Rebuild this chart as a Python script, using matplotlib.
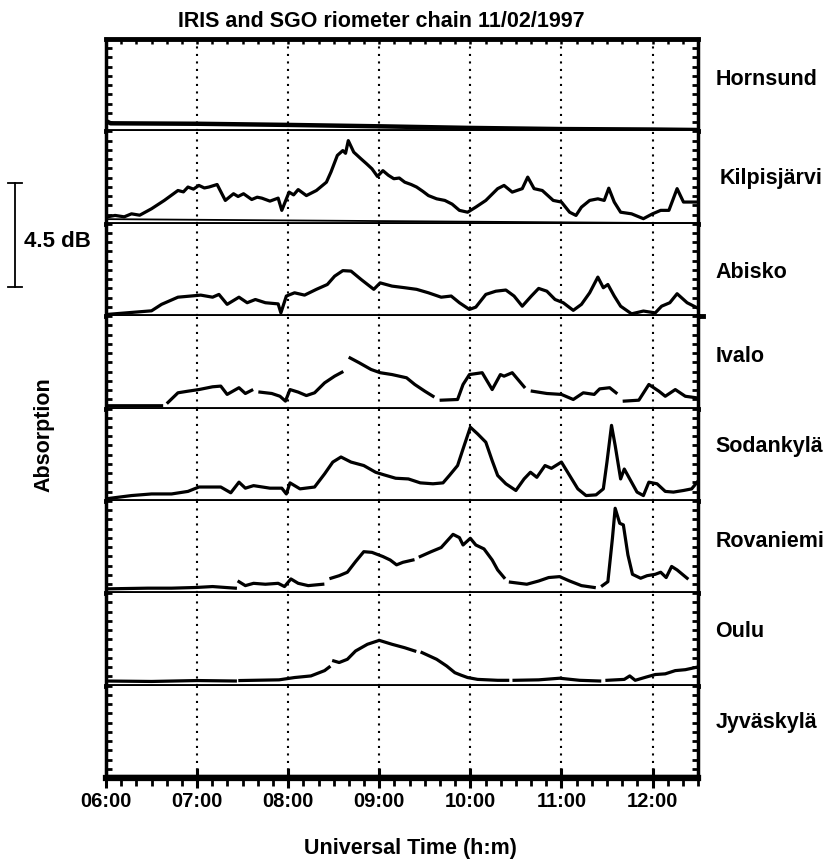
import numpy as np
import matplotlib.pyplot as plt
import matplotlib.transforms as mtransforms
from matplotlib.ticker import MultipleLocator, FuncFormatter

plt.rcParams['font.family'] = ['Liberation Sans', 'DejaVu Sans']
plt.rcParams['font.weight'] = 'bold'

nan = np.nan

stations = ['Hornsund', 'Kilpisjärvi', 'Abisko', 'Ivalo',
            'Sodankylä', 'Rovaniemi', 'Oulu', 'Jyväskylä']
hours = [6, 7, 8, 9, 10, 11, 12]

# absorption traces in dB, time in decimal hours UT (nan = data gap)
hor_t = [6.0, 6.05, 7.0, 8.0, 9.0, 10.0, 11.0, 12.0, 12.5]
hor_v = [0.45, 0.35, 0.33, 0.28, 0.22, 0.15, 0.10, 0.08, 0.06]

kil_t = [6.0, 6.1, 6.2, 6.28, 6.37, 6.5, 6.64, 6.79, 6.85, 6.9, 6.96, 7.02, 7.08, 7.13,
         7.22, 7.31, 7.4, 7.45, 7.51, 7.6, 7.66, 7.71, 7.8, 7.89, 7.93, 8.01, 8.06,
         8.11, 8.2, 8.31, 8.42, 8.47, 8.54, 8.6, 8.63,
         8.66, 8.72, 8.8, 8.86, 8.92, 8.98, 9.04, 9.1, 9.16, 9.22, 9.28, 9.35, 9.41,
         9.48, 9.54, 9.63, 9.72, 9.8,
         9.88, 9.97, 10.06, 10.17, 10.3, 10.37, 10.46, 10.57, 10.63, 10.7, 10.79,
         10.91, 11.0, 11.09, 11.16, 11.22, 11.31, 11.4, 11.47, 11.52, 11.58, 11.65,
         11.77, 11.9, 12.0, 12.09, 12.18, 12.27, 12.34, 12.49]
kil_v = [0.29, 0.36, 0.3, 0.43, 0.37, 0.65, 1.01, 1.44, 1.38, 1.59, 1.5, 1.66, 1.55, 1.59,
         1.70, 1.01, 1.3, 1.18, 1.3, 1.05, 1.15, 1.11, 0.98, 1.11, 0.58, 1.37, 1.25,
         1.48, 1.22, 1.44, 1.8, 2.24, 2.96, 3.17, 3.05,
         3.6, 3.1, 2.81, 2.6, 2.38, 2.05, 2.3, 2.1, 1.95, 1.98, 1.8, 1.7, 1.59,
         1.4, 1.22, 1.08, 1.01, 0.85,
         0.58, 0.5, 0.72, 1.01, 1.52, 1.66, 1.37, 1.52, 2.02, 1.52, 1.44,
         1.01, 0.94, 0.5, 0.36, 0.72, 1.01, 1.08, 1.01, 1.54, 0.94, 0.5,
         0.43, 0.22, 0.43, 0.58, 0.58, 1.52, 0.94, 0.94]
kil_base_t = [6.0, 12.5]
kil_base_v = [0.2, 0.02]

abi_t = [6.0, 6.5, 6.61, 6.79, 6.93, 7.04, 7.17, 7.24, 7.33, 7.46, 7.55, 7.64, 7.75,
         7.89, 7.92, 7.98, 8.07, 8.18, 8.31, 8.43, 8.51, 8.6, 8.69, 8.8, 8.94, 9.01,
         9.14, 9.28, 9.41, 9.54, 9.68, 9.79, 9.88, 9.99, 10.06, 10.17, 10.28, 10.39,
         10.48, 10.57, 10.67, 10.75, 10.84, 10.93, 11.02, 11.13, 11.22, 11.31, 11.4,
         11.46, 11.51, 11.58, 11.65, 11.77, 11.9, 12.03, 12.1, 12.19, 12.27, 12.38, 12.49]
abi_v = [0.07, 0.23, 0.51, 0.82, 0.87, 0.91, 0.82, 0.94, 0.51, 0.82, 0.58, 0.72, 0.58,
         0.53, 0.14, 0.87, 1.01, 0.91, 1.16, 1.37, 1.73, 1.97, 1.95, 1.59, 1.16, 1.44,
         1.3, 1.23, 1.16, 1.01, 0.82, 0.87, 0.58, 0.29, 0.39, 0.94, 1.08, 1.13,
         0.87, 0.43, 0.87, 1.2, 1.08, 0.72, 0.58, 0.25, 0.51, 1.01, 1.69,
         1.23, 1.37, 0.87, 0.43, 0.1, 0.22, 0.14, 0.43, 0.58, 0.97, 0.58, 0.36]

iva_t = [6.0, 6.61, nan, 6.68, 6.79, 6.9, 7.02, 7.17, 7.26, 7.33, 7.46, 7.53, 7.6, nan,
         7.69, 7.82, 7.91, 7.97, 8.02, 8.11, 8.2, 8.29, 8.4, 8.51, 8.59, nan,
         8.68, 8.78, 8.91, 9.01, 9.14, 9.3, 9.39, 9.5, 9.59, nan,
         9.68, 9.86, 9.92, 9.99, 10.13, 10.24, 10.33, 10.37, 10.46, 10.59, nan,
         10.68, 10.84, 11.0, 11.13, 11.24, 11.36, 11.42, 11.53, 11.6, nan,
         11.69, 11.85, 11.96, 12.07, 12.14, 12.25, 12.36, 12.49]
iva_v = [0.12, 0.12, nan, 0.26, 0.68, 0.75, 0.82, 0.94, 0.97, 0.61, 0.9, 0.65, 0.79, nan,
         0.71, 0.65, 0.53, 0.32, 0.82, 0.71, 0.56, 0.68, 1.11, 1.4, 1.57, nan,
         2.19, 1.98, 1.69, 1.55, 1.47, 1.33, 1.04, 0.75, 0.53, nan,
         0.36, 0.39, 1.04, 1.47, 1.55, 0.82, 1.47, 1.4, 1.55, 0.94, nan,
         0.75, 0.65, 0.61, 0.39, 0.68, 0.61, 0.85, 0.9, 0.68, nan,
         0.32, 0.36, 1.04, 0.75, 0.53, 0.82, 0.53, 0.46]

sod_t = [6.0, 6.28, 6.5, 6.72, 6.9, 7.02, 7.26, 7.37, 7.46, 7.53, 7.62, 7.8, 7.93, 7.98,
         8.02, 8.13, 8.29, 8.4, 8.49, 8.58, 8.69, 8.83, 8.96, 9.05, 9.18, 9.32, 9.45,
         9.59, 9.7, 9.77, 9.86, 9.92, 10.0, 10.08, 10.17, 10.24, 10.3, 10.39, 10.5,
         10.59, 10.66, 10.73, 10.82, 10.89, 11.0, 11.09, 11.18, 11.27, 11.38, 11.46,
         11.5, 11.55, 11.59, 11.65, 11.69, 11.76, 11.83, 11.9, 11.96, 12.05, 12.14,
         12.23, 12.34, 12.43, 12.49]
sod_v = [0.09, 0.23, 0.3, 0.3, 0.41, 0.6, 0.6, 0.35, 0.81, 0.55, 0.66, 0.55, 0.55, 0.3,
         0.78, 0.52, 0.6, 1.17, 1.68, 1.9, 1.68, 1.53, 1.24, 1.13, 0.98, 0.95, 0.78,
         0.74, 0.78, 1.1, 1.53, 2.25, 3.19, 2.9, 2.54, 1.74, 1.1, 0.74, 0.45,
         0.95, 1.24, 1.02, 1.53, 1.41, 1.68, 1.1, 0.52, 0.23, 0.26, 0.52,
         1.68, 3.27, 2.4, 0.95, 1.38, 0.88, 0.38, 0.23, 0.81, 0.74, 0.41,
         0.38, 0.45, 0.52, 0.81]

rov_t = [6.0, 6.46, 6.72, 6.99, 7.17, 7.31, 7.42, nan,
         7.46, 7.53, 7.62, 7.75, 7.89, 7.96, 8.03, 8.11, 8.22, 8.38, nan,
         8.47, 8.56, 8.65, 8.74, 8.83, 8.92, 9.04, 9.12, 9.19, 9.26, 9.37, nan,
         9.45, 9.57, 9.68, 9.81, 9.88, 9.92, 10.0, 10.06, 10.15, 10.24, 10.3, 10.37, nan,
         10.44, 10.62, 10.75, 10.86, 10.98, 11.09, 11.22, 11.36, nan,
         11.45, 11.51, 11.56, 11.59, 11.64, 11.68, 11.73, 11.78, 11.87, 11.94, 12.03,
         12.09, 12.15, 12.21, 12.27, 12.38]
rov_v = [0.19, 0.22, 0.22, 0.25, 0.29, 0.25, 0.22, nan,
         0.5, 0.33, 0.43, 0.39, 0.43, 0.29, 0.62, 0.43, 0.33, 0.39, nan,
         0.65, 0.76, 0.91, 1.37, 1.8, 1.77, 1.59, 1.44, 1.23, 1.34, 1.44, nan,
         1.59, 1.8, 1.98, 2.55, 2.41, 2.09, 2.38, 2.09, 1.92, 1.44, 1.01, 0.68, nan,
         0.48, 0.39, 0.53, 0.68, 0.72, 0.53, 0.33, 0.25, nan,
         0.33, 0.5, 2.38, 3.68, 3.03, 2.96, 1.66, 0.82, 0.65, 0.76, 0.82,
         0.91, 0.68, 1.16, 1.01, 0.65]

oul_t = [6.0, 6.5, 7.0, 7.42, nan, 7.47, 7.9, 8.07, 8.25, 8.4, 8.45, nan,
         8.5, 8.56, 8.65, 8.74, 8.87, 9.0, 9.14, 9.28, 9.39, nan,
         9.47, 9.63, 9.74, 9.83, 9.9, 9.97, 10.08, 10.3, 10.41, nan,
         10.48, 10.75, 10.98, 11.2, 11.42, nan,
         11.5, 11.69, 11.75, 11.81, 11.93, 12.03, 12.14, 12.25, 12.36, 12.49]
oul_v = [0.2, 0.18, 0.22, 0.2, nan, 0.22, 0.25, 0.35, 0.42, 0.65, 0.8, nan,
         1.07, 1.0, 1.14, 1.5, 1.79, 1.96, 1.79, 1.64, 1.5, nan,
         1.43, 1.14, 0.85, 0.56, 0.45, 0.35, 0.27, 0.23, 0.23, nan,
         0.23, 0.25, 0.32, 0.23, 0.2, nan,
         0.23, 0.27, 0.42, 0.23, 0.37, 0.48, 0.51, 0.65, 0.69, 0.8]

jyv_t = [6.0, 12.5]
jyv_v = [0.05, 0.05]

traces = [(hor_t, hor_v), (kil_t, kil_v), (abi_t, abi_v), (iva_t, iva_v),
          (sod_t, sod_v), (rov_t, rov_v), (oul_t, oul_v), (jyv_t, jyv_v)]

# label placement (axes fraction)
label_x = [1.029, 1.037, 1.029, 1.029, 1.029, 1.029, 1.029, 1.029]
label_y = [0.56, 0.49, 0.47, 0.56, 0.59, 0.56, 0.59, 0.6]

fig, axes = plt.subplots(8, 1, sharex=True, figsize=(8.32, 8.63), dpi=100,
                         gridspec_kw={'hspace': 0})
fig.subplots_adjust(left=0.1274, right=0.839, top=0.9548, bottom=0.0985)

for i, ax in enumerate(axes):
    ax.set_xlim(6, 12.5)
    ax.set_ylim(0, 4.0)
    for h in hours[1:]:
        ax.axvline(h, color='k', lw=1.5, ls=(0, (1, 2.6)), zorder=1)
    t, v = traces[i]
    lw = 3.2 if i in (0, 7) else 2.3
    ax.plot(t, v, color='k', lw=lw, zorder=3)
    ax.spines['top'].set_visible(i == 0)
    ax.spines['top'].set_linewidth(3.5)
    ax.spines['bottom'].set_linewidth(3.5)
    ax.spines['left'].set_linewidth(2.5)
    ax.spines['right'].set_linewidth(2.5)
    ax.yaxis.set_major_locator(MultipleLocator(0.4))
    ax.tick_params(axis='y', which='both', left=True, right=True, labelleft=False,
                   direction='in', length=4.5, width=2)
    ax.tick_params(axis='x', which='both', bottom=False, top=False,
                   labelbottom=False)
    ax.text(label_x[i], label_y[i], stations[i], transform=ax.transAxes,
            ha='left', va='center', fontsize=15.5, fontweight='bold')

axes[1].plot(kil_base_t, kil_base_v, color='k', lw=1.3, zorder=2)
# Abisko zero line runs a little past the frame
axes[2].plot([12.5, 12.55], [0, 0], color='k', lw=3.5, clip_on=False)

axb = axes[-1]
axb.xaxis.set_major_locator(MultipleLocator(1))
axb.xaxis.set_minor_locator(MultipleLocator(1 / 6))
axb.xaxis.set_major_formatter(FuncFormatter(lambda x, p: f"{int(round(x)):02d}:00"))
axb.tick_params(axis='x', which='major', bottom=True, direction='inout', length=14,
                width=2.2, labelbottom=True, labelsize=14.5, pad=3)
axb.tick_params(axis='x', which='minor', bottom=True, direction='out', length=6,
                width=2)
for lab in axb.get_xticklabels():
    lab.set_fontweight('bold')
axb.spines['bottom'].set_linewidth(4.5)

axes[0].tick_params(axis='x', which='both', top=True, direction='in', length=3.5,
                    width=1.8)

# 4.5 dB scale bar next to Kilpisjarvi / Abisko
ak = axes[1]
trans = mtransforms.blended_transform_factory(ak.transAxes, ak.transData)
bar_top = 1.77
bar_len = 4.5
ak.plot([-0.154, -0.154], [bar_top, bar_top - bar_len], color='k', lw=1.3,
        transform=trans, clip_on=False)
for yy in (bar_top, bar_top - bar_len):
    ak.plot([-0.166, -0.142], [yy, yy], color='k', lw=1.3, transform=trans,
            clip_on=False)
ak.text(-0.139, -0.75, '4.5 dB', transform=trans, ha='left', va='center',
        fontsize=16, fontweight='bold')

fig.text(381 / 832, 1 - 27 / 863, 'IRIS and SGO riometer chain 11/02/1997',
         ha='center', va='baseline', fontsize=15.5, fontweight='bold')
fig.text(410 / 832, 1 - 848 / 863, 'Universal Time (h:m)', ha='center',
         va='center', fontsize=15.5, fontweight='bold')
fig.text(44 / 832, 1 - 435 / 863, 'Absorption', rotation=90, ha='center',
         va='center', fontsize=15.5, fontweight='bold')

fig.savefig('out.png', dpi=100)
